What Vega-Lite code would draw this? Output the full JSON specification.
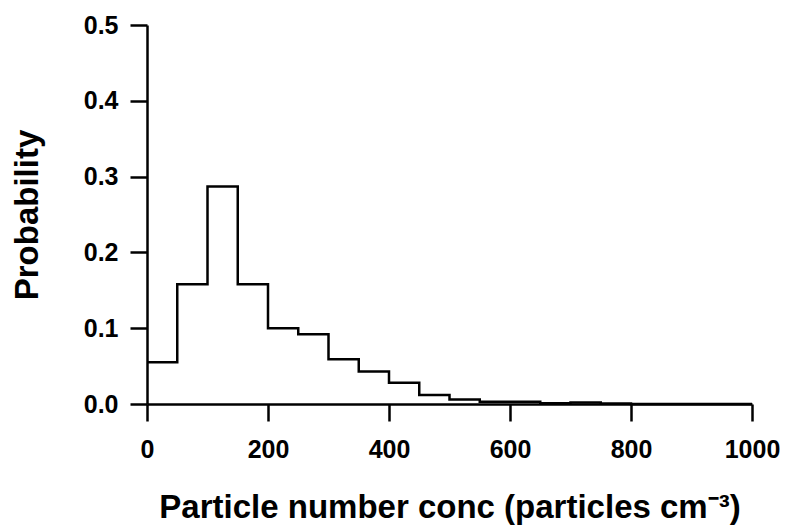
{
  "$schema": "https://vega.github.io/schema/vega-lite/v6.json",
  "width": 605,
  "height": 379,
  "autosize": {"type": "none"},
  "padding": {"left": 147, "top": 25, "right": 36, "bottom": 121},
  "background": "white",
  "config": {
    "view": {"stroke": null},
    "font": "Liberation Sans",
    "axis": {
      "grid": false,
      "domainColor": "black",
      "domainWidth": 2.5,
      "tickColor": "black",
      "tickWidth": 2.5,
      "tickSize": 17,
      "labelFont": "Liberation Sans",
      "labelFontSize": 25,
      "labelFontWeight": "bold",
      "labelColor": "black",
      "titleFont": "Liberation Sans",
      "titleFontSize": 33,
      "titleFontWeight": "bold",
      "titleColor": "black"
    }
  },
  "data": {
    "values": [
      {"conc": 0, "prob": 0.055},
      {"conc": 50, "prob": 0.158},
      {"conc": 100, "prob": 0.287},
      {"conc": 150, "prob": 0.158},
      {"conc": 200, "prob": 0.100},
      {"conc": 250, "prob": 0.092},
      {"conc": 300, "prob": 0.059},
      {"conc": 350, "prob": 0.043},
      {"conc": 400, "prob": 0.028},
      {"conc": 450, "prob": 0.012},
      {"conc": 500, "prob": 0.006},
      {"conc": 550, "prob": 0.003},
      {"conc": 600, "prob": 0.003},
      {"conc": 650, "prob": 0.001},
      {"conc": 700, "prob": 0.002},
      {"conc": 750, "prob": 0.0005},
      {"conc": 800, "prob": 0},
      {"conc": 1000, "prob": 0}
    ]
  },
  "mark": {"type": "line", "interpolate": "step-after", "color": "black", "strokeWidth": 2.5},
  "encoding": {
    "x": {
      "field": "conc",
      "type": "quantitative",
      "scale": {"domain": [0, 1000], "nice": false},
      "axis": {
        "values": [0, 200, 400, 600, 800, 1000],
        "format": "d",
        "labelBaseline": "alphabetic",
        "labelPadding": 36,
        "labelFlush": false,
        "title": "Particle number conc (particles cm⁻³)",
        "titleBaseline": "alphabetic",
        "titleY": 113
      }
    },
    "y": {
      "field": "prob",
      "type": "quantitative",
      "scale": {"domain": [0, 0.5], "nice": false},
      "axis": {
        "values": [0, 0.1, 0.2, 0.3, 0.4, 0.5],
        "format": ".1f",
        "labelPadding": 12,
        "labelFlush": false,
        "title": "Probability",
        "titleAngle": -90,
        "titleBaseline": "alphabetic",
        "titleX": -110
      }
    }
  }
}
